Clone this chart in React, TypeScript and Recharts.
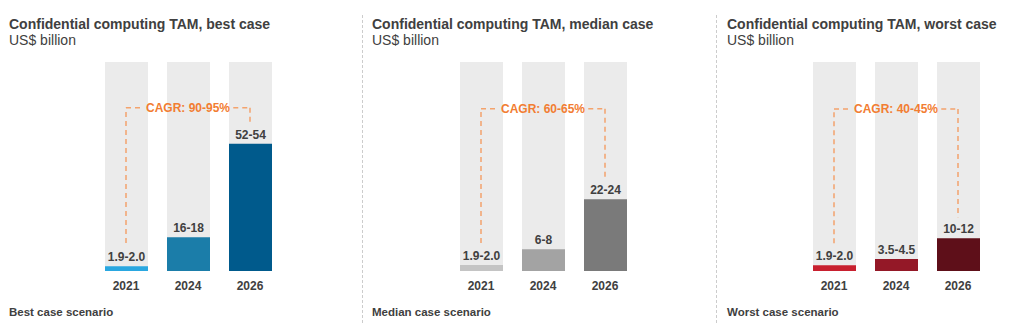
import React from 'react';
import { BarChart, Bar, XAxis, YAxis, Cell, LabelList, ReferenceLine, ReferenceDot } from 'recharts';

const years = ['2021', '2024', '2026'];

const bestValues = [1.95, 14, 53];
const bestLabels = ['1.9-2.0', '16-18', '52-54'];
const bestColors = ['#2aa7e0', '#1b7da9', '#005a8c'];

const medianValues = [1.95, 7, 23];
const medianLabels = ['1.9-2.0', '6-8', '22-24'];
const medianColors = ['#c4c4c4', '#a3a3a3', '#7a7a7a'];

const worstValues = [1.95, 4, 11];
const worstLabels = ['1.9-2.0', '3.5-4.5', '10-12'];
const worstColors = ['#c8202f', '#941827', '#5e0f19'];

const titles = [
  'Confidential computing TAM, best case',
  'Confidential computing TAM, median case',
  'Confidential computing TAM, worst case',
];
const subtitle = 'US$ billion';
const footers = ['Best case scenario', 'Median case scenario', 'Worst case scenario'];
const cagrLabels = ['CAGR: 90-95%', 'CAGR: 60-65%', 'CAGR: 40-45%'];

const FONT = '"Liberation Sans", Arial, Helvetica, sans-serif';
const TEXT = '#404040';
const LINE_ORANGE = '#f4a36d';
const TEXT_ORANGE = '#f27d32';

type Panel = {
  values: number[];
  labels: string[];
  colors: string[];
  max: number;
  top: number;
  leftBottom: number;
  rightBottom: number;
  chartLeft: number;
  textLeft: number;
};

const panels: Panel[] = [
  { values: bestValues, labels: bestLabels, colors: bestColors, max: 87, top: 68, leftBottom: 11.7, rightBottom: 62, chartLeft: 77.5, textLeft: 9 },
  { values: medianValues, labels: medianLabels, colors: medianColors, max: 67, top: 52, leftBottom: 9, rightBottom: 30, chartLeft: 432.5, textLeft: 372 },
  { values: worstValues, labels: worstLabels, colors: worstColors, max: 70, top: 54.3, leftBottom: 9.3, rightBottom: 18, chartLeft: 785.5, textLeft: 727 },
];

const separators = [362, 716];

const dash = '5 4';

function PanelChart({ p, cagr }: { p: Panel; cagr: string }) {
  const data = years.map((y, i) => ({ year: y, value: p.values[i], label: p.labels[i], pos: i + 0.5 }));
  return (
    <div style={{ position: 'absolute', left: p.chartLeft, top: 0 }}>
      <BarChart width={220} height={323} data={data} margin={{ top: 62, bottom: 22, left: 17, right: 17 }}>
        <XAxis
          dataKey="year"
          axisLine={false}
          tickLine={false}
          interval={0}
          height={30}
          tickMargin={4}
          tick={{ fill: TEXT, fontSize: 12, fontWeight: 700 }}
        />
        <XAxis xAxisId="n" dataKey="pos" type="number" domain={[0, 3]} allowDataOverflow hide />
        <YAxis hide domain={[0, p.max]} allowDataOverflow />
        <Bar dataKey="value" barSize={43} background={{ fill: '#ebebeb' }} isAnimationActive={false}>
          {data.map((d, i) => (
            <Cell key={d.year} fill={p.colors[i]} />
          ))}
          <LabelList dataKey="label" position="top" offset={5} fill={TEXT} fontSize={12} fontWeight={700} />
        </Bar>
        <ReferenceLine xAxisId="n" ifOverflow="visible" segment={[{ x: 0.5, y: p.leftBottom }, { x: 0.5, y: p.top }]} stroke={LINE_ORANGE} strokeWidth={1.5} strokeDasharray={dash} />
        <ReferenceLine xAxisId="n" ifOverflow="visible" segment={[{ x: 0.5, y: p.top }, { x: 0.77, y: p.top }]} stroke={LINE_ORANGE} strokeWidth={1.5} strokeDasharray={dash} />
        <ReferenceLine xAxisId="n" ifOverflow="visible" segment={[{ x: 2.23, y: p.top }, { x: 2.5, y: p.top }]} stroke={LINE_ORANGE} strokeWidth={1.5} strokeDasharray={dash} />
        <ReferenceLine xAxisId="n" ifOverflow="visible" segment={[{ x: 2.5, y: p.top }, { x: 2.5, y: p.rightBottom }]} stroke={LINE_ORANGE} strokeWidth={1.5} strokeDasharray={dash} />
        <ReferenceDot
          xAxisId="n"
          x={1.5}
          y={p.top}
          r={0}
          fill="none"
          stroke="none"
          ifOverflow="visible"
          label={{ value: cagr, position: 'center', fill: TEXT_ORANGE, fontSize: 12, fontWeight: 700 }}
        />
      </BarChart>
    </div>
  );
}

export default function App() {
  return (
    <div
      style={{
        position: 'absolute',
        left: 0,
        top: 0,
        width: 1024,
        height: 323,
        background: '#ffffff',
        overflow: 'hidden',
        fontFamily: FONT,
      }}
    >
      {separators.map((x) => (
        <div
          key={x}
          style={{ position: 'absolute', left: x, top: 15, height: 308, borderLeft: '1px dashed #cccccc' }}
        />
      ))}
      {panels.map((p, i) => (
        <React.Fragment key={i}>
          <div style={{ position: 'absolute', left: p.textLeft, top: 16, fontSize: 14, lineHeight: '16px', fontWeight: 700, color: TEXT, whiteSpace: 'nowrap' }}>
            {titles[i]}
          </div>
          <div style={{ position: 'absolute', left: p.textLeft, top: 32, fontSize: 14, lineHeight: '16px', color: TEXT, whiteSpace: 'nowrap' }}>
            {subtitle}
          </div>
          <div style={{ position: 'absolute', left: p.textLeft, top: 305, fontSize: 11.5, lineHeight: '14px', fontWeight: 700, color: TEXT, whiteSpace: 'nowrap' }}>
            {footers[i]}
          </div>
          <PanelChart p={p} cagr={cagrLabels[i]} />
        </React.Fragment>
      ))}
    </div>
  );
}
